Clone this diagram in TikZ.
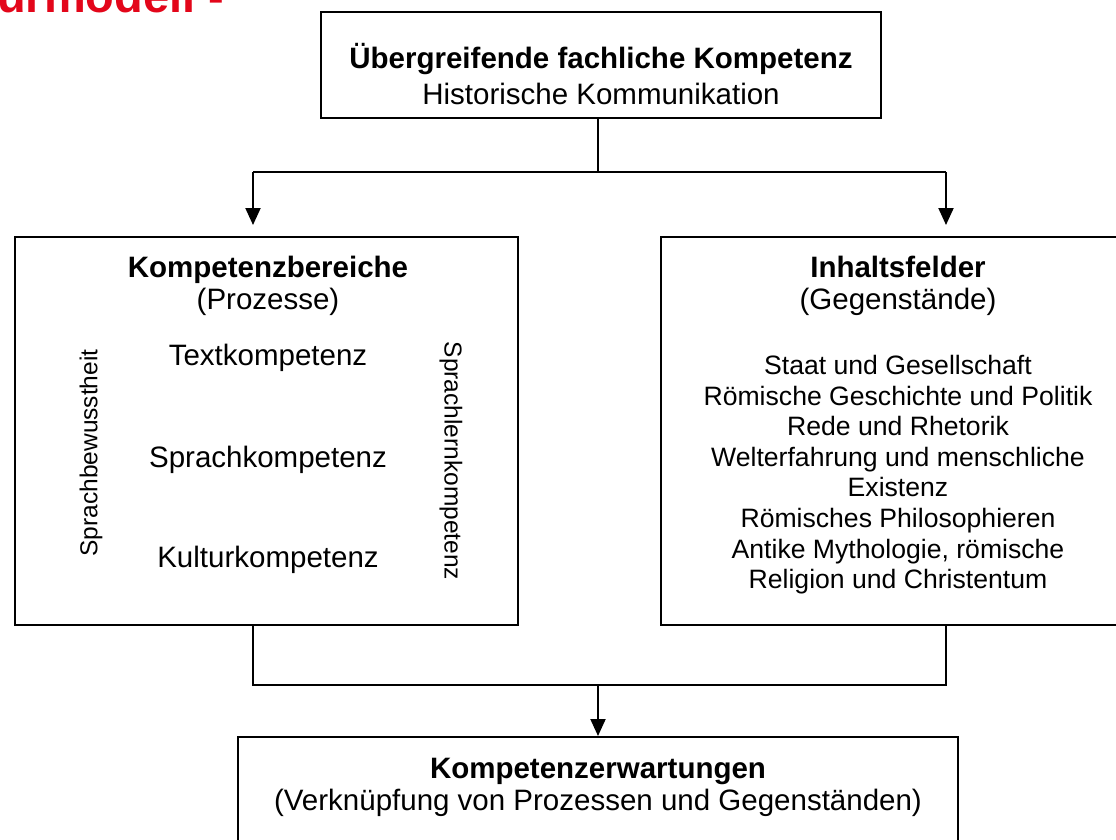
\documentclass[tikz,border=0pt]{standalone}
\usepackage{fontspec}
\setmainfont{Liberation Sans}
\usetikzlibrary{arrows.meta}
\definecolor{titlered}{RGB}{227,6,26}
\tikzset{
  box/.style={draw=black, line width=2pt, fill=white, rectangle, inner sep=0pt},
  conn/.style={draw=black, line width=2pt},
  arr/.style={conn, -{Triangle[length=17pt,width=15pt]}},
  big/.style={font=\fontsize{29.5}{34}\selectfont, inner sep=0pt, anchor=base},
  bigb/.style={font=\fontsize{29.5}{34}\selectfont\bfseries, inner sep=0pt, anchor=base},
  list/.style={font=\fontsize{26.6}{30.6}\selectfont, inner sep=0pt, align=center, anchor=north},
  side/.style={font=\fontsize{24.5}{28}\selectfont, inner sep=0pt},
}
\begin{document}
\begin{tikzpicture}[x=1pt,y=-1pt]
\clip (0,0) rectangle (1116,839);
\fill[white] (0,0) rectangle (1116,839);
% red cut title
\node[font=\fontsize{47}{52}\selectfont\bfseries, text=titlered, inner sep=0pt, anchor=base west] (title) at (-3,12) {urmodell -};
% boxes
\node[box, minimum width=560pt, minimum height=106pt] (top) at (601,65) {};
\node[box, minimum width=503pt, minimum height=388pt] (left) at (266.5,431) {};
\node[box, minimum width=460pt, minimum height=388pt] (right) at (891,431) {};
\node[box, minimum width=720pt, minimum height=133pt] (bottom) at (598,803.5) {};
% connectors
\coordinate (j1) at (598,172);
\coordinate (l1) at (253,172);
\coordinate (r1) at (946,172);
\coordinate (l2) at (253,685);
\coordinate (r2) at (946,685);
\coordinate (j2) at (598,685);
\draw[conn] (j1 |- top.south) -- (j1);
\draw[conn] (l1) -- (r1);
\draw[arr, shorten >=11pt] (l1) -- (l1 |- left.north);
\draw[arr, shorten >=11pt] (r1) -- (r1 |- right.north);
\draw[conn] (l2 |- left.south) -- (l2) -- (r2) -- (r2 |- right.south);
\draw[arr] (j2) -- (j2 |- bottom.north);
% top texts
\node[bigb] (t1) at (601,68) {Übergreifende fachliche Kompetenz};
\node[big] (t2) at (601,104) {Historische Kommunikation};
% left texts
\node[bigb] (l1t) at (268,277) {Kompetenzbereiche};
\node[big] (l2t) at (268,309) {(Prozesse)};
\node[big] (lt3) at (268,365) {Textkompetenz};
\node[big] (lt4) at (268,467) {Sprachkompetenz};
\node[big] (lt5) at (268,567) {Kulturkompetenz};
\node[side, rotate=90] (sb) at (91,453) {Sprachbewusstheit};
\node[side, rotate=-90] (slk) at (451,461) {Sprachlernkompetenz};
% right texts
\node[bigb] (r1t) at (898,277) {Inhaltsfelder};
\node[big] (r2t) at (898,309) {(Gegenstände)};
\node[list] (rl) at (898,355) {Staat und Gesellschaft\\Römische Geschichte und Politik\\Rede und Rhetorik\\Welterfahrung und menschliche\\Existenz\\Römisches Philosophieren\\Antike Mythologie, römische\\Religion und Christentum};
% bottom texts
\node[bigb] (b1) at (598,778) {Kompetenzerwartungen};
\node[big] (b2) at (598,810) {(Verknüpfung von Prozessen und Gegenständen)};
\end{tikzpicture}
\end{document}
